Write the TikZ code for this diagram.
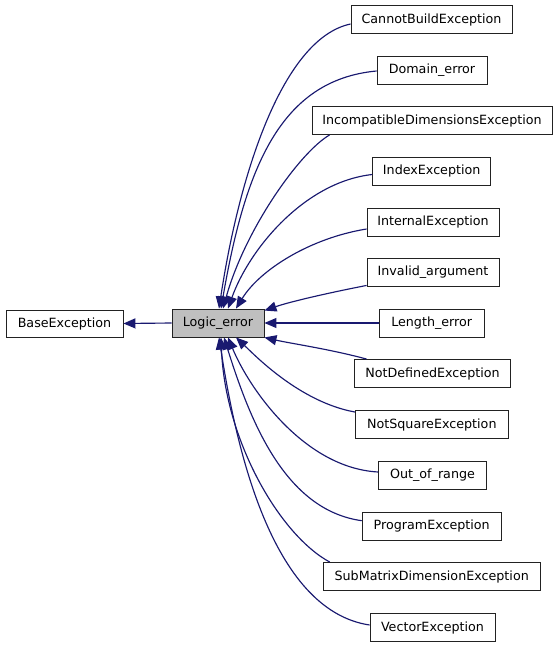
\documentclass[tikz,border=0pt]{standalone}
\usepackage{fontspec}
\setmainfont{DejaVu Sans}
\usetikzlibrary{arrows.meta,calc}
\definecolor{edgeblue}{HTML}{191970}
\definecolor{boxgray}{HTML}{BFBFBF}
\definecolor{boxline}{HTML}{222222}
\begin{document}
\begin{tikzpicture}[x=1pt,y=-1pt,
  cls/.style={draw=boxline,line width=0.9pt,fill=white,inner sep=0pt,minimum height=28pt,
    font=\fontsize{12.7}{15}\selectfont},
  edge/.style={draw=edgeblue,line width=1.15pt,-{Triangle[length=12pt,width=10pt]}}]
\useasboundingbox[fill=white] (0,0) rectangle (557,645);
\node[cls,minimum width=117pt,minimum height=27pt] (base) at (64.5,323.5) {BaseException};
\node[cls,minimum width=92pt,fill=boxgray] (logic) at (218,323) {Logic\_error};
\node[cls,minimum width=161pt] (cbe) at (431.5,19.5) {CannotBuildException};
\node[cls,minimum width=110pt] (dom) at (432,70) {Domain\_error};
\node[cls,minimum width=240pt] (inc) at (432,120.5) {IncompatibleDimensionsException};
\node[cls,minimum width=118pt] (idx) at (431.7,171) {IndexException};
\node[cls,minimum width=132pt] (int) at (433,222) {InternalException};
\node[cls,minimum width=132pt] (inv) at (433,272.5) {Invalid\_argument};
\node[cls,minimum width=105pt] (len) at (431.7,323) {Length\_error};
\node[cls,minimum width=156pt] (nd) at (432.5,373.5) {NotDefinedException};
\node[cls,minimum width=153pt] (ns) at (431.8,424.5) {NotSquareException};
\node[cls,minimum width=108pt] (oor) at (432.5,475) {Out\_of\_range};
\node[cls,minimum width=139pt] (prog) at (431.7,526) {ProgramException};
\node[cls,minimum width=217pt] (sub) at (431.7,576.5) {SubMatrixDimensionException};
\node[cls,minimum width=125pt] (vec) at (432.5,627.5) {VectorException};
% edges
\draw[edge] (logic.west) -- (base.east);
\draw[edge] ($(cbe.west)+(0,4.5)$) .. controls +(-66.5,14) and +(21,-139) .. ($(logic.north)+(1,0)$);
\draw[edge] ($(dom.west)+(0,1)$) .. controls +(-97,9) and +(24,-139) .. ($(logic.north)+(3,0)$);
\draw[edge] ($(inc.south west)+(18,0)$) .. controls +(-30,17.5) and +(22,-79) .. ($(logic.north)+(5,0)$);
\draw[edge] ($(idx.west)+(0,3.5)$) .. controls +(-68,7.5) and +(21,-59) .. ($(logic.north)+(10,0)$);
\draw[edge] ($(int.west)+(0,7)$) .. controls +(-56,9) and +(24,-39) .. ($(logic.north)+(18,0)$);
\draw[edge] ($(inv.south west)+(0,-1.5)$) .. controls +(-36,7) and +(26,-9) .. ($(logic.north east)+(0,2)$);
\draw[edge] (len.west) -- (logic.east);
\draw[edge] ($(nd.north west)+(12.5,0)$) .. controls +(-37,-10) and +(26,6) .. (logic.south east);
\draw[edge] ($(ns.west)+(0,-12.5)$) .. controls +(-55,-10) and +(19,18) .. ($(logic.south)+(18,0)$);
\draw[edge] ($(oor.west)+(0,-3)$) .. controls +(-73,-4) and +(22,53) .. ($(logic.south)+(10,0)$);
\draw[edge] ($(prog.west)+(0,-5.3)$) .. controls +(-77,-10.7) and +(26,83) .. ($(logic.south)+(6,0)$);
\draw[edge] ($(sub.north west)+(7,0)$) .. controls +(-50,-27) and +(4,103) .. ($(logic.south)+(3,0)$);
\draw[edge] ($(vec.west)+(0,-2.5)$) .. controls +(-100,-15) and +(16,103) .. ($(logic.south)+(1,0)$);
\end{tikzpicture}
\end{document}
